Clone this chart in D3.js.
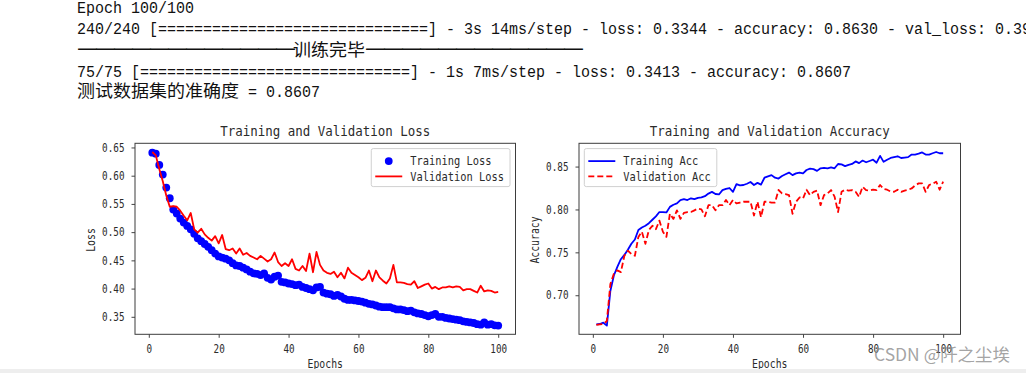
<!DOCTYPE html>
<html>
<head>
<meta charset="utf-8">
<script src="https://cdn.jsdelivr.net/npm/d3@7"></script>
<style>
  html, body { margin: 0; padding: 0; background: #fff; }
  svg { display: block; }
  .log { font-family: "Liberation Mono", monospace; font-size: 16px; fill: #111; }
  .log text { white-space: pre; }
  .log .cjk { font-family: "Noto Sans CJK SC", sans-serif; font-size: 17px; }
  .log .dash { font-family: "DejaVu Sans", sans-serif; font-size: 21px; }
  .chart text { font-family: "DejaVu Sans Mono", monospace; fill: #2b2b2b; }
</style>
</head>
<body>
<svg id="fig" width="1026" height="373"></svg>
<script>
// ---- data ----
const epochs = d3.range(1, 101);

const trainLoss = [
  0.6408, 0.6390, 0.6190, 0.6020, 0.5790, 0.5600, 0.5400, 0.5330, 0.5240, 0.5170,
  0.5110, 0.5050, 0.4970, 0.4890, 0.4840, 0.4790, 0.4740, 0.4680, 0.4620, 0.4570,
  0.4550, 0.4530, 0.4500, 0.4450, 0.4410, 0.4400, 0.4370, 0.4340, 0.4300, 0.4270,
  0.4260, 0.4240, 0.4270, 0.4190, 0.4160, 0.4210, 0.4230, 0.4120, 0.4110, 0.4090,
  0.4080, 0.4060, 0.4070, 0.4030, 0.4010, 0.3990, 0.3970, 0.4020, 0.4030, 0.3930,
  0.3910, 0.3900, 0.3870, 0.3890, 0.3860, 0.3820, 0.3800, 0.3800, 0.3790, 0.3780,
  0.3770, 0.3750, 0.3730, 0.3720, 0.3700, 0.3680, 0.3670, 0.3670, 0.3670, 0.3650,
  0.3630, 0.3630, 0.3620, 0.3600, 0.3610, 0.3580, 0.3560, 0.3550, 0.3530, 0.3510,
  0.3530, 0.3550, 0.3500, 0.3500, 0.3480, 0.3470, 0.3460, 0.3450, 0.3440, 0.3420,
  0.3410, 0.3400, 0.3390, 0.3370, 0.3360, 0.3400, 0.3360, 0.3370, 0.3350, 0.3344
];

const valLoss = [
  0.6420, 0.6360, 0.6120, 0.5900, 0.5650, 0.5450, 0.5460, 0.5450, 0.5380, 0.5290,
  0.5210, 0.5340, 0.5050, 0.4990, 0.5060, 0.4960, 0.4900, 0.4850, 0.4930, 0.4800,
  0.4950, 0.4700, 0.4680, 0.4710, 0.4620, 0.4710, 0.4600, 0.4630, 0.4580, 0.4550,
  0.4520, 0.4580, 0.4530, 0.4480, 0.4520, 0.4640, 0.4470, 0.4400, 0.4450, 0.4400,
  0.4520, 0.4350, 0.4320, 0.4400, 0.4310, 0.4620, 0.4290, 0.4650, 0.4420, 0.4320,
  0.4280, 0.4260, 0.4300, 0.4200, 0.4280, 0.4180, 0.4370, 0.4280, 0.4240, 0.4200,
  0.4150, 0.4190, 0.4320, 0.4130, 0.4320, 0.4200, 0.4140, 0.4090, 0.4180, 0.4420,
  0.4110, 0.4110, 0.4100, 0.4080, 0.4070, 0.4130, 0.4010, 0.4040, 0.4070, 0.4090,
  0.4000, 0.4030, 0.3990, 0.4020, 0.4020, 0.4040, 0.4020, 0.4040, 0.4030, 0.3970,
  0.3990, 0.3990, 0.3960, 0.3930, 0.4050, 0.3950, 0.3970, 0.3960, 0.3930, 0.3940
];

const trainAcc = [
  0.6660, 0.6665, 0.6680, 0.6646, 0.7050, 0.7230, 0.7330, 0.7420, 0.7470, 0.7530,
  0.7600, 0.7650, 0.7760, 0.7790, 0.7810, 0.7840, 0.7880, 0.7920, 0.7970, 0.7970,
  0.7965, 0.8030, 0.8055, 0.8070, 0.8110, 0.8120, 0.8110, 0.8130, 0.8120, 0.8135,
  0.8140, 0.8155, 0.8185, 0.8205, 0.8180, 0.8175, 0.8225, 0.8240, 0.8250, 0.8205,
  0.8295, 0.8280, 0.8285, 0.8300, 0.8320, 0.8285, 0.8310, 0.8290, 0.8370, 0.8385,
  0.8400, 0.8370, 0.8360, 0.8390, 0.8410, 0.8430, 0.8400, 0.8420, 0.8430, 0.8420,
  0.8460, 0.8475, 0.8470, 0.8450, 0.8480, 0.8485, 0.8480, 0.8490, 0.8480, 0.8530,
  0.8525, 0.8505, 0.8520, 0.8530, 0.8560, 0.8540, 0.8570, 0.8550, 0.8565, 0.8580,
  0.8545, 0.8625, 0.8555, 0.8580, 0.8600, 0.8610, 0.8620, 0.8600, 0.8605, 0.8610,
  0.8640, 0.8640, 0.8650, 0.8665, 0.8640, 0.8640, 0.8655, 0.8670, 0.8655, 0.8655
];

const valAcc = [
  0.6655, 0.6660, 0.6665, 0.6700, 0.7130, 0.7250, 0.7290, 0.7270, 0.7460, 0.7520,
  0.7480, 0.7460, 0.7680, 0.7740, 0.7600, 0.7760, 0.7810, 0.7770, 0.7870, 0.7740,
  0.7680, 0.7950, 0.7890, 0.7990, 0.7890, 0.7960, 0.7970, 0.7970, 0.7990, 0.8010,
  0.8000, 0.7920, 0.8050, 0.8050, 0.7990, 0.8050, 0.8050, 0.8110, 0.8050, 0.8110,
  0.8070, 0.8080, 0.8090, 0.8090, 0.8090, 0.7930, 0.8090, 0.7910, 0.8090, 0.8090,
  0.8080, 0.8080, 0.8227, 0.8187, 0.8180, 0.8167, 0.7950, 0.8090, 0.8140, 0.8128,
  0.8230, 0.8167, 0.8206, 0.8220, 0.8050, 0.8167, 0.8187, 0.8226, 0.8150, 0.7970,
  0.8206, 0.8230, 0.8220, 0.8226, 0.8206, 0.8147, 0.8265, 0.8226, 0.8220, 0.8230,
  0.8226, 0.8285, 0.8240, 0.8230, 0.8210, 0.8206, 0.8230, 0.8206, 0.8220, 0.8230,
  0.8245, 0.8280, 0.8304, 0.8304, 0.8206, 0.8285, 0.8300, 0.8324, 0.8230, 0.8324
];

const xTicks = [0, 20, 40, 60, 80, 100];
const lossTicks = [0.35, 0.40, 0.45, 0.50, 0.55, 0.60, 0.65];
const accTicks = [0.70, 0.75, 0.80, 0.85];

const logLines = [
  'Epoch 100/100',
  '240/240 [==============================] - 3s 14ms/step - loss: 0.3344 - accuracy: 0.8630 - val_loss: 0.39',
  '————————————训练完毕————————————',
  '75/75 [==============================] - 1s 7ms/step - loss: 0.3413 - accuracy: 0.8607',
  '测试数据集的准确度 = 0.8607'
];

const watermark = 'CSDN @阡之尘埃';

// ---- layout ----
const svg = d3.select('#fig');
svg.append('rect').attr('width', 1026).attr('height', 373).attr('fill', '#fff');

// squeeze mono text to a fixed advance per character
function fit(sel, cw) {
  sel.each(function () {
    const n = this.textContent.length;
    d3.select(this).attr('textLength', n * cw).attr('lengthAdjust', 'spacingAndGlyphs');
  });
}

// notebook output text
function drawLog() {
  const g = svg.append('g').attr('class', 'log');
  const baselines = [13, 34, 55.5, 77, 97];
  const kindOf = (ch) => (ch === '—' ? 'dash' : /[\u3000-\u9fff]/.test(ch) ? 'cjk' : 'latin');
  logLines.forEach((line, i) => {
    // split into runs of dashes, CJK and narrow characters
    const runs = [];
    for (const ch of line) {
      const k = kindOf(ch);
      if (runs.length && runs[runs.length - 1].k === k) runs[runs.length - 1].s += ch;
      else runs.push({ s: ch, k });
    }
    let x = 77;
    runs.forEach((r) => {
      const cw = r.k === 'latin' ? 9 : 18;
      const len = [...r.s].length;
      const t = g.append('text')
        .attr('class', r.k === 'latin' ? null : r.k)
        .attr('xml:space', 'preserve')
        .attr('x', x)
        .attr('y', baselines[i] - (r.k === 'dash' ? 0.5 : 0))
        .text(r.s);
      if (r.k === 'dash') {
        // dashes overlap slightly so the rule reads as one line
        t.attr('letter-spacing', -3);
      } else {
        t.attr('textLength', len * cw).attr('lengthAdjust', 'spacingAndGlyphs');
      }
      x += len * cw;
    });
  });
}

function drawPanel(frame, cfg) {
  const g = svg.append('g').attr('class', 'chart');

  const xExt = d3.extent(epochs);
  const xPad = (xExt[1] - xExt[0]) * 0.05;
  const x = d3.scaleLinear()
    .domain([xExt[0] - xPad, xExt[1] + xPad])
    .range([frame.left, frame.right]);

  const yExt = d3.extent(cfg.series.flatMap((s) => s.values));
  const yPad = (yExt[1] - yExt[0]) * 0.05;
  const y = d3.scaleLinear()
    .domain([yExt[0] - yPad, yExt[1] + yPad])
    .range([frame.bottom, frame.top]);

  // axes
  const xAxis = g.append('g')
    .attr('transform', `translate(0,${frame.bottom})`)
    .call(d3.axisBottom(x).tickValues(xTicks).tickSize(3.5).tickPadding(7).tickFormat(d3.format('d')));
  const yAxis = g.append('g')
    .attr('transform', `translate(${frame.left},0)`)
    .call(d3.axisLeft(y).tickValues(cfg.yTicks).tickSize(3.5).tickPadding(7).tickFormat(d3.format('.2f')));
  [xAxis, yAxis].forEach((a) => {
    a.select('.domain').remove();
    a.selectAll('line').attr('stroke', '#444').attr('stroke-width', 1);
    a.selectAll('text').attr('font-size', 11.5).attr('fill', '#2b2b2b').attr('font-family', 'DejaVu Sans Mono');
    fit(a.selectAll('text'), 5.6);
  });

  // series
  const plot = g.append('g');
  cfg.series.forEach((s) => {
    const pts = epochs.map((e, i) => [e, s.values[i]]);
    if (s.type === 'dots') {
      plot.append('g').selectAll('circle')
        .data(pts)
        .join('circle')
        .attr('cx', (d) => x(d[0]))
        .attr('cy', (d) => y(d[1]))
        .attr('r', 3.9)
        .attr('fill', s.color);
    } else {
      plot.append('path')
        .datum(pts)
        .attr('fill', 'none')
        .attr('stroke', s.color)
        .attr('stroke-width', 1.8)
        .attr('stroke-linejoin', 'round')
        .attr('stroke-dasharray', s.dash || null)
        .attr('d', d3.line().x((d) => x(d[0])).y((d) => y(d[1])));
    }
  });

  // frame
  g.append('rect')
    .attr('x', frame.left).attr('y', frame.top)
    .attr('width', frame.right - frame.left).attr('height', frame.bottom - frame.top)
    .attr('fill', 'none').attr('stroke', '#3d3d3d').attr('stroke-width', 1);

  const cx = (frame.left + frame.right) / 2;
  const title = g.append('text')
    .attr('x', cx).attr('y', 136).attr('text-anchor', 'middle')
    .attr('font-size', 14.5).text(cfg.title);
  fit(title, 7.5);

  const xl = g.append('text')
    .attr('x', cx).attr('y', 367.5).attr('text-anchor', 'middle')
    .attr('font-size', 11.5).text('Epochs');
  fit(xl, 5.9);

  const yl = g.append('text')
    .attr('transform', `translate(${frame.left - 40.5},240) rotate(-90)`)
    .attr('text-anchor', 'middle')
    .attr('font-size', 11.5).text(cfg.ylabel);
  fit(yl, 5.9);

  // legend
  const cw = 6.25;
  const maxLen = d3.max(cfg.series, (s) => s.label.length);
  const lw = maxLen * cw + 39 + 6;
  const lx = cfg.legendRight ? frame.right - 5.5 - lw : frame.left + 5.3;
  const ly = frame.top + 5.3;
  const leg = g.append('g').attr('transform', `translate(${lx},${ly})`);
  leg.append('rect')
    .attr('width', lw).attr('height', 38).attr('rx', 2)
    .attr('fill', '#fff').attr('fill-opacity', 0.85)
    .attr('stroke', '#d0d0d0').attr('stroke-width', 1);
  cfg.series.forEach((s, i) => {
    const ry = 12.5 + i * 15.3;
    if (s.type === 'dots') {
      leg.append('circle').attr('cx', 17.5).attr('cy', ry).attr('r', 3.9).attr('fill', s.color);
    } else {
      leg.append('line')
        .attr('x1', 4).attr('x2', 31).attr('y1', ry).attr('y2', ry)
        .attr('stroke', s.color).attr('stroke-width', 1.8)
        .attr('stroke-dasharray', s.dash || null);
    }
    const t = leg.append('text')
      .attr('x', 39).attr('y', ry + 4.3)
      .attr('font-size', 12.5).text(s.label);
    fit(t, cw);
  });
}

drawLog();

drawPanel({ left: 135, right: 515.5, top: 143.3, bottom: 334.3 }, {
  title: 'Training and Validation Loss',
  ylabel: 'Loss',
  yTicks: lossTicks,
  legendRight: true,
  series: [
    { label: 'Training Loss', values: trainLoss, type: 'dots', color: '#0000ff' },
    { label: 'Validation Loss', values: valLoss, type: 'line', color: '#ff0000' }
  ]
});

drawPanel({ left: 579, right: 960.5, top: 143.3, bottom: 334.3 }, {
  title: 'Training and Validation Accuracy',
  ylabel: 'Accuracy',
  yTicks: accTicks,
  legendRight: false,
  series: [
    { label: 'Training Acc', values: trainAcc, type: 'line', color: '#0000ff' },
    { label: 'Validation Acc', values: valAcc, type: 'line', color: '#ff0000', dash: '6,3' }
  ]
});

// page footer strip and watermark
svg.append('rect').attr('x', 0).attr('y', 369).attr('width', 1026).attr('height', 4).attr('fill', '#eeeeee');
svg.append('text')
  .attr('x', 874).attr('y', 361)
  .attr('font-family', '"Noto Sans CJK SC", sans-serif')
  .attr('font-size', 17)
  .attr('fill', '#8c8c8c').attr('fill-opacity', 0.8)
  .attr('textLength', 136).attr('lengthAdjust', 'spacingAndGlyphs')
  .text(watermark);
</script>
</body>
</html>
